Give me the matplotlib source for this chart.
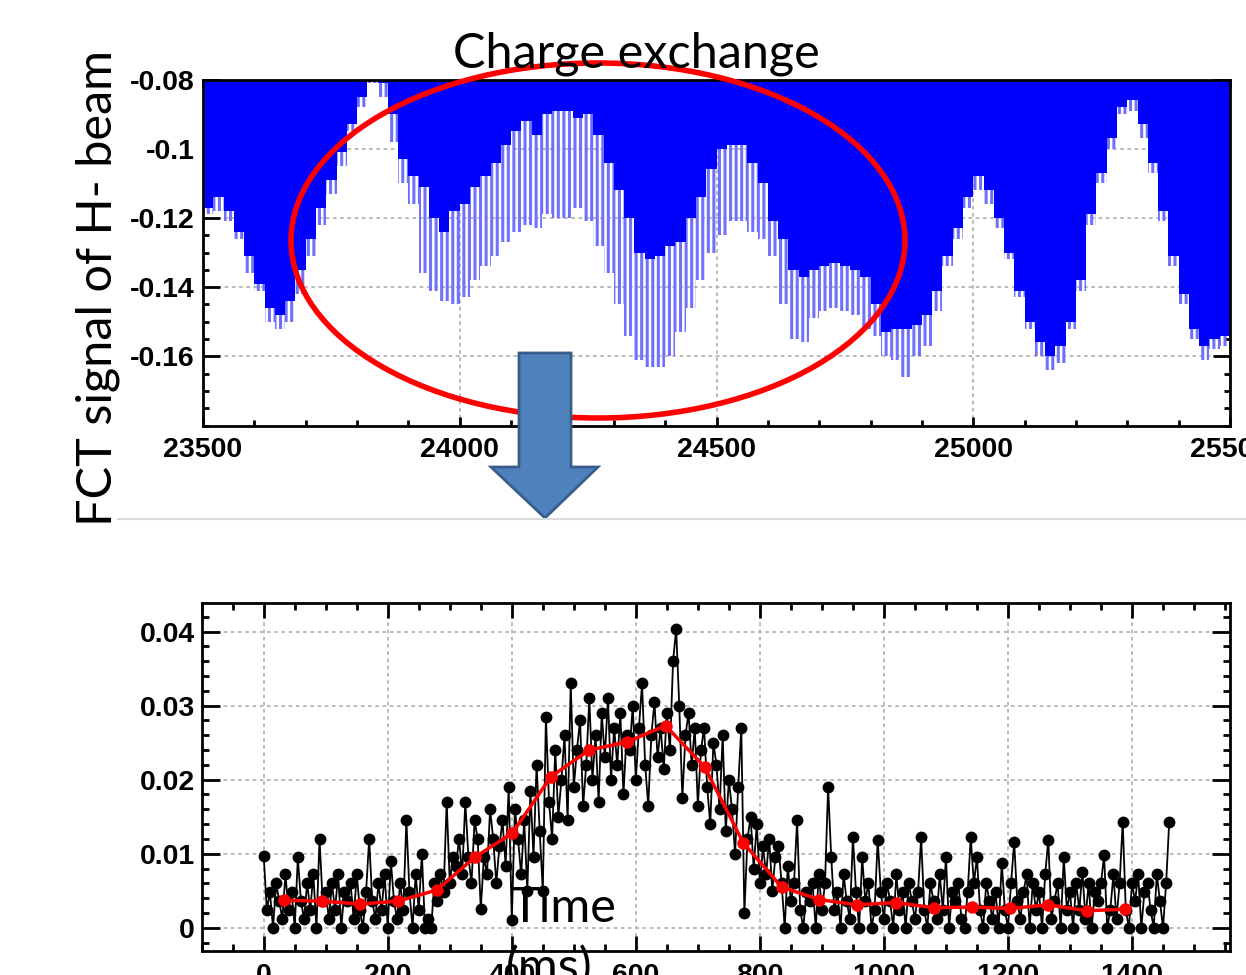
import numpy as np
import matplotlib.pyplot as plt
from matplotlib.patches import Ellipse, Polygon
from matplotlib.ticker import MultipleLocator

# ---- top panel: FCT signal of H- beam (20-unit bins, 23500..25500) ----
fct_edges = np.arange(23500, 25501, 20)
# lower edge of the solid blue fill (upper envelope of the signal)
fct_edge = [
    -0.117, -0.114, -0.118, -0.124, -0.131, -0.139, -0.146, -0.148, -0.144, -0.135,
    -0.126, -0.117, -0.109, -0.101, -0.093, -0.085, -0.080, -0.081, -0.090, -0.103,
    -0.108, -0.111, -0.120, -0.124, -0.118, -0.116, -0.111, -0.108, -0.104, -0.099,
    -0.095, -0.092, -0.096, -0.090, -0.089, -0.089, -0.091, -0.090, -0.096, -0.104,
    -0.112, -0.120, -0.130, -0.132, -0.131, -0.128, -0.127, -0.120, -0.114, -0.106,
    -0.100, -0.099, -0.099, -0.104, -0.110, -0.121, -0.126, -0.135, -0.137, -0.135,
    -0.134, -0.133, -0.134, -0.135, -0.137, -0.145, -0.153, -0.152, -0.152, -0.151,
    -0.148, -0.141, -0.131, -0.123, -0.114, -0.108, -0.112, -0.120, -0.130, -0.141,
    -0.150, -0.156, -0.160, -0.157, -0.150, -0.138, -0.119, -0.107, -0.097, -0.088,
    -0.086, -0.093, -0.104, -0.118, -0.131, -0.142, -0.152, -0.157, -0.155, -0.154,
]
# deepest point of the fast oscillation in each bin (lower envelope)
fct_tip = [
    -0.119, -0.118, -0.121, -0.126, -0.136, -0.141, -0.150, -0.152, -0.150, -0.142,
    -0.131, -0.122, -0.113, -0.105, -0.095, -0.088, -0.081, -0.085, -0.098, -0.110,
    -0.116, -0.136, -0.141, -0.144, -0.145, -0.143, -0.138, -0.134, -0.131, -0.127,
    -0.124, -0.122, -0.123, -0.119, -0.120, -0.120, -0.117, -0.121, -0.128, -0.136,
    -0.145, -0.154, -0.161, -0.163, -0.163, -0.160, -0.153, -0.146, -0.138, -0.130,
    -0.125, -0.121, -0.121, -0.124, -0.126, -0.131, -0.145, -0.155, -0.156, -0.149,
    -0.147, -0.146, -0.147, -0.148, -0.152, -0.154, -0.160, -0.161, -0.166, -0.160,
    -0.157, -0.147, -0.134, -0.126, -0.117, -0.112, -0.116, -0.123, -0.132, -0.143,
    -0.152, -0.160, -0.164, -0.162, -0.152, -0.141, -0.122, -0.110, -0.100, -0.090,
    -0.089, -0.097, -0.107, -0.121, -0.134, -0.145, -0.155, -0.161, -0.158, -0.157,
]
top_xticks = [23500, 24000, 24500, 25000, 25500]
top_xlabels = ['23500', '24000', '24500', '25000', '25500']
top_yticks = [-0.08, -0.1, -0.12, -0.14, -0.16]
top_ylabels = ['-0.08', '-0.1', '-0.12', '-0.14', '-0.16']

# ---- bottom panel: charge exchange signal vs time (ms), one point every 5 ms ----
cx_t = np.arange(0, 1461, 5)
cx_val = [
    0.0097, 0.0024, 0.0048, 0.0000, 0.0060, 0.0036, 0.0012, 0.0072, 0.0024, 0.0048,
    0.0000, 0.0095, 0.0036, 0.0012, 0.0060, 0.0024, 0.0072, 0.0000, 0.0120, 0.0036,
    0.0048, 0.0012, 0.0060, 0.0024, 0.0072, 0.0000, 0.0048, 0.0036, 0.0060, 0.0012,
    0.0072, 0.0024, 0.0000, 0.0048, 0.0120, 0.0036, 0.0012, 0.0060, 0.0024, 0.0072,
    0.0000, 0.0090, 0.0036, 0.0012, 0.0060, 0.0024, 0.0145, 0.0048, 0.0000, 0.0072,
    0.0024, 0.0100, 0.0000, 0.0012, 0.0000, 0.0060, 0.0036, 0.0072, 0.0048, 0.0170,
    0.0060, 0.0096, 0.0084, 0.0120, 0.0072, 0.0170, 0.0096, 0.0060, 0.0145, 0.0120,
    0.0025, 0.0096, 0.0072, 0.0160, 0.0120, 0.0060, 0.0110, 0.0145, 0.0084, 0.0190,
    0.0010, 0.0160, 0.0120, 0.0072, 0.0145, 0.0050, 0.0185, 0.0096, 0.0220, 0.0130,
    0.0050, 0.0285, 0.0170, 0.0120, 0.0240, 0.0150, 0.0200, 0.0260, 0.0145, 0.0330,
    0.0190, 0.0240, 0.0280, 0.0165, 0.0220, 0.0310, 0.0200, 0.0260, 0.0170, 0.0290,
    0.0230, 0.0310, 0.0200, 0.0270, 0.0220, 0.0290, 0.0180, 0.0260, 0.0240, 0.0300,
    0.0200, 0.0270, 0.0330, 0.0220, 0.0165, 0.0260, 0.0305, 0.0230, 0.0270, 0.0215,
    0.0290, 0.0240, 0.0360, 0.0403, 0.0300, 0.0175, 0.0260, 0.0290, 0.0220, 0.0270,
    0.0165, 0.0240, 0.0270, 0.0190, 0.0140, 0.0250, 0.0220, 0.0160, 0.0260, 0.0130,
    0.0200, 0.0160, 0.0100, 0.0190, 0.0270, 0.0020, 0.0120, 0.0150, 0.0080, 0.0140,
    0.0060, 0.0110, 0.0072, 0.0120, 0.0050, 0.0096, 0.0110, 0.0060, 0.0000, 0.0084,
    0.0036, 0.0060, 0.0145, 0.0024, 0.0000, 0.0048, 0.0036, 0.0060, 0.0000, 0.0072,
    0.0024, 0.0060, 0.0190, 0.0096, 0.0024, 0.0048, 0.0000, 0.0072, 0.0036, 0.0012,
    0.0122, 0.0048, 0.0000, 0.0095, 0.0036, 0.0060, 0.0000, 0.0024, 0.0119, 0.0048,
    0.0012, 0.0060, 0.0036, 0.0000, 0.0072, 0.0024, 0.0048, 0.0000, 0.0060, 0.0036,
    0.0012, 0.0048, 0.0122, 0.0024, 0.0000, 0.0060, 0.0036, 0.0012, 0.0072, 0.0024,
    0.0095, 0.0000, 0.0048, 0.0036, 0.0060, 0.0012, 0.0000, 0.0048, 0.0122, 0.0060,
    0.0095, 0.0024, 0.0000, 0.0060, 0.0036, 0.0012, 0.0048, 0.0000, 0.0088, 0.0024,
    0.0000, 0.0060, 0.0116, 0.0036, 0.0012, 0.0048, 0.0072, 0.0000, 0.0060, 0.0024,
    0.0048, 0.0000, 0.0072, 0.0119, 0.0012, 0.0036, 0.0060, 0.0000, 0.0095, 0.0024,
    0.0048, 0.0000, 0.0060, 0.0024, 0.0075, 0.0012, 0.0060, 0.0000, 0.0048, 0.0036,
    0.0060, 0.0098, 0.0000, 0.0024, 0.0072, 0.0012, 0.0060, 0.0143, 0.0024, 0.0000,
    0.0060, 0.0036, 0.0072, 0.0000, 0.0048, 0.0060, 0.0024, 0.0000, 0.0072, 0.0036,
    0.0000, 0.0060, 0.0143,
]
# smoothed curve (red)
avg_t = [32, 94, 156, 217, 279, 340, 401, 463, 525, 586, 648, 711,
         773, 835, 896, 957, 1019, 1081, 1142, 1204, 1265, 1327, 1389]
avg_val = [0.0037, 0.0036, 0.0032, 0.0036, 0.0051, 0.0095, 0.0128, 0.0204,
           0.0240, 0.0251, 0.0273, 0.0217, 0.0115, 0.0055, 0.0038, 0.0031,
           0.0034, 0.0027, 0.0028, 0.0026, 0.0031, 0.0023, 0.0025]
bot_xticks = [0, 200, 400, 600, 800, 1000, 1200, 1400]
bot_yticks = [0, 0.01, 0.02, 0.03, 0.04]
bot_ylabels = ['0', '0.01', '0.02', '0.03', '0.04']

plt.rcParams['font.family'] = 'Liberation Sans'
plt.rcParams['font.weight'] = 'bold'
plt.rcParams['hatch.linewidth'] = 2.2
plt.rcParams['hatch.color'] = '#7070ff'

W, H = 1246, 975
fig = plt.figure(figsize=(W / 100, H / 100), dpi=100)


def style_axes(ax, ymaj, xmaj, minor, xpad, ypad):
    for s in ax.spines.values():
        s.set_linewidth(2)
        s.set_zorder(5)
    ax.tick_params(which='both', direction='in', top=True, right=True,
                   width=2, labelsize=20.5, colors='black')
    ax.tick_params(axis='y', which='major', length=ymaj, pad=ypad)
    ax.tick_params(axis='x', which='major', length=xmaj, pad=xpad)
    ax.tick_params(which='minor', length=minor)
    ax.grid(True, which='major', color='#b4b4b4', linestyle=(0, (2, 2)), lw=1.3)


# top panel
ax1 = fig.add_axes([203 / W, 1 - 425.5 / H, 1027 / W, 346 / H])
ax1.stairs(fct_edge, fct_edges, baseline=-0.08, fill=True, color='#0000ff', zorder=3)
ax1.stairs(fct_tip, fct_edges, baseline=fct_edge, fill=True, facecolor='none',
           edgecolor='#7070ff', hatch='|||', lw=0, zorder=3)
ax1.set_xlim(23500, 25500)
ax1.set_ylim(-0.18, -0.08)
ax1.set_xticks(top_xticks, top_xlabels)
ax1.set_yticks(top_yticks, top_ylabels)
ax1.xaxis.set_minor_locator(MultipleLocator(100))
ax1.yaxis.set_minor_locator(MultipleLocator(0.005))
style_axes(ax1, 12, 6.5, 4, 8, 6)

# bottom panel
ax2 = fig.add_axes([201.7 / W, 1 - 950.7 / H, 1028.3 / W, 348 / H])
ax2.plot(cx_t, cx_val, color='black', lw=1.3, marker='o', ms=7.5, zorder=3)
ax2.plot(avg_t, avg_val, color='#ff0000', lw=2.5, marker='o', ms=8, zorder=4)
ax2.set_xlim(-100, 1558)
ax2.set_ylim(-0.0031, 0.0439)
ax2.set_xticks(bot_xticks, [str(v) for v in bot_xticks])
ax2.set_yticks(bot_yticks, bot_ylabels)
ax2.xaxis.set_minor_locator(MultipleLocator(50))
ax2.yaxis.set_minor_locator(MultipleLocator(0.002))
style_axes(ax2, 13, 11, 5, 9, 5)

# overlay in pixel coordinates for the slide annotations
ov = fig.add_axes([0, 0, 1, 1])
ov.set_xlim(0, W)
ov.set_ylim(H, 0)
ov.axis('off')

ov.plot([118, W], [519, 519], color='#dadada', lw=1.5)
ov.add_patch(Ellipse((598, 240.5), 614, 355, fill=False, edgecolor='#ff0000', lw=4))
arrow = [(519, 353), (571, 353), (571, 467), (598, 467), (545, 518),
         (491, 467), (519, 467)]
ov.add_patch(Polygon(arrow, closed=True, facecolor='#4f81bd', edgecolor='#385d8a', lw=2))

txt = dict(family='Lato', fontweight='normal', fontsize=35, color='black')
ov.text(636, 68, 'Charge exchange', ha='center', va='baseline', **txt)
ov.text(112, 288, 'FCT signal of H- beam', rotation=90, rotation_mode='anchor',
        ha='center', va='baseline', **txt)
ov.text(510, 922, 'Time', ha='left', va='baseline', **txt)
ov.text(506, 982, '(ms)', ha='left', va='baseline', **txt)

fig.savefig('out.png', dpi=100)
